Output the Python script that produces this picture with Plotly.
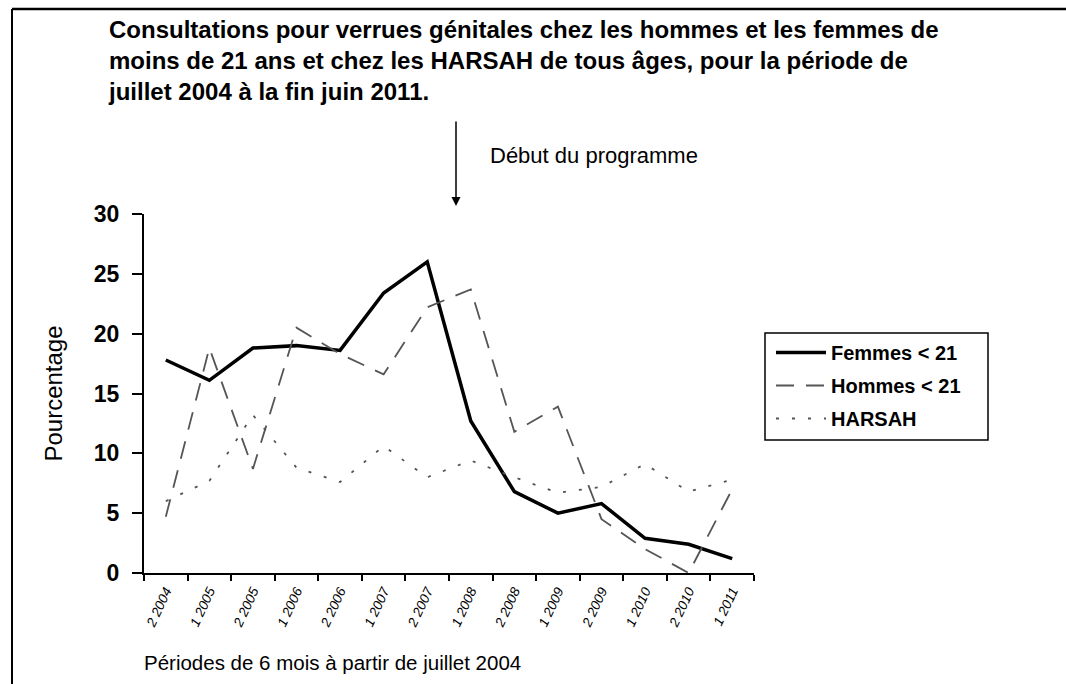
import plotly.graph_objects as go

periods = ["2 2004", "1 2005", "2 2005", "1 2006", "2 2006", "1 2007", "2 2007",
           "1 2008", "2 2008", "1 2009", "2 2009", "1 2010", "2 2010", "1 2011"]
femmes = [17.8, 16.1, 18.8, 19.0, 18.6, 23.4, 26.0, 12.7, 6.8, 5.0, 5.8, 2.9, 2.4, 1.2]
hommes = [4.7, 18.8, 8.7, 20.5, 18.3, 16.6, 22.2, 23.7, 11.8, 13.9, 4.5, 2.0, 0.0, 7.0]
harsah = [6.0, 7.7, 13.2, 8.8, 7.6, 10.6, 8.0, 9.4, 8.0, 6.7, 7.2, 9.1, 6.8, 7.8]

W, H = 1066, 684
L, T, R, B = 144, 214, 312, 111
pw, ph = W - L - R, H - T - B

def px(x):
    return (x - L) / pw

def py(y):
    return (H - B - y) / ph

FONT = "Liberation Sans, Arial, sans-serif"

fig = go.Figure()
fig.add_trace(go.Scatter(x=periods, y=femmes, name="Femmes < 21", mode="lines",
                         legendgroup="a",
                         line=dict(color="black", width=3.5)))
fig.add_trace(go.Scatter(x=periods, y=hommes, name="Hommes < 21", mode="lines",
                         legendgroup="b",
                         line=dict(color="#555555", width=1.8, dash="18px,12px")))
fig.add_trace(go.Scatter(x=periods, y=harsah, name="HARSAH", mode="lines",
                         legendgroup="c",
                         line=dict(color="#555555", width=1.8, dash="3px,13px")))

fig.update_layout(
    width=W, height=H,
    margin=dict(l=L, r=R, t=T, b=B),
    paper_bgcolor="white", plot_bgcolor="white",
    font=dict(family=FONT, color="black"),
    showlegend=True,
    legend=dict(x=px(771), y=py(333), xanchor="left", yanchor="top",
                borderwidth=0, bgcolor="rgba(0,0,0,0)",
                font=dict(size=20, family=FONT, color="black", weight="bold"),
                traceorder="grouped", tracegroupgap=4, itemwidth=50),
    xaxis=dict(type="category", range=[-0.5, 13.5], showgrid=False,
               showline=True, linecolor="black", linewidth=2,
               ticks="outside", tickson="boundaries", ticklen=6,
               tickcolor="black", tickwidth=2,
               tickangle=-65, ticklabelstandoff=3,
               tickfont=dict(size=13.5, family=FONT, color="black", style="italic")),
    yaxis=dict(range=[0, 30], tickvals=[0, 5, 10, 15, 20, 25, 30], showgrid=False,
               zeroline=False, showline=True, linecolor="black", linewidth=2,
               ticks="outside", ticklen=10, tickcolor="black", tickwidth=2,
               ticklabelstandoff=8,
               tickfont=dict(size=23, family=FONT, color="black", weight="bold"),
               title=dict(text="Pourcentage",
                          font=dict(size=24, family=FONT, color="black"),
                          standoff=24)),
)

fig.add_annotation(
    text="Périodes de 6 mois à partir de juillet 2004",
    xref="paper", yref="paper", x=px(332), y=py(662), xanchor="center", yanchor="middle",
    showarrow=False, font=dict(size=20.5, family=FONT, color="black"))

fig.add_annotation(
    text=("Consultations pour verrues génitales chez les hommes et les femmes de<br>"
          "moins de 21 ans et chez les HARSAH de tous âges, pour la période de<br>"
          "juillet 2004 à la fin juin 2011."),
    xref="paper", yref="paper", x=px(106), y=py(14), xanchor="left", yanchor="top",
    align="left", showarrow=False,
    font=dict(size=24, family=FONT, color="black", weight="bold"))

fig.add_annotation(
    text="Début du programme", xref="paper", yref="paper",
    x=px(488), y=py(155), xanchor="left", yanchor="middle", showarrow=False,
    font=dict(size=22, family=FONT, color="black"))

# arrow
fig.add_annotation(
    xref="paper", yref="paper", x=px(456), y=py(206), ax=0, ay=-86,
    text="", showarrow=True,
    arrowhead=2, arrowsize=1.2, arrowwidth=1.5, arrowcolor="black")

# legend box
fig.add_shape(type="rect", xref="paper", yref="paper",
              x0=px(765), x1=px(988), y0=py(333), y1=py(440),
              line=dict(color="black", width=1.5), layer="below")

# frame lines
fig.add_shape(type="line", xref="paper", yref="paper",
              x0=px(12), x1=px(1066), y0=py(9), y1=py(9),
              line=dict(color="black", width=2.5))
fig.add_shape(type="line", xref="paper", yref="paper",
              x0=px(12), x1=px(12), y0=py(9), y1=py(684),
              line=dict(color="black", width=2))

fig.write_html("out.html", config={"displayModeBar": False},
               post_script="document.body.style.margin='0';")
